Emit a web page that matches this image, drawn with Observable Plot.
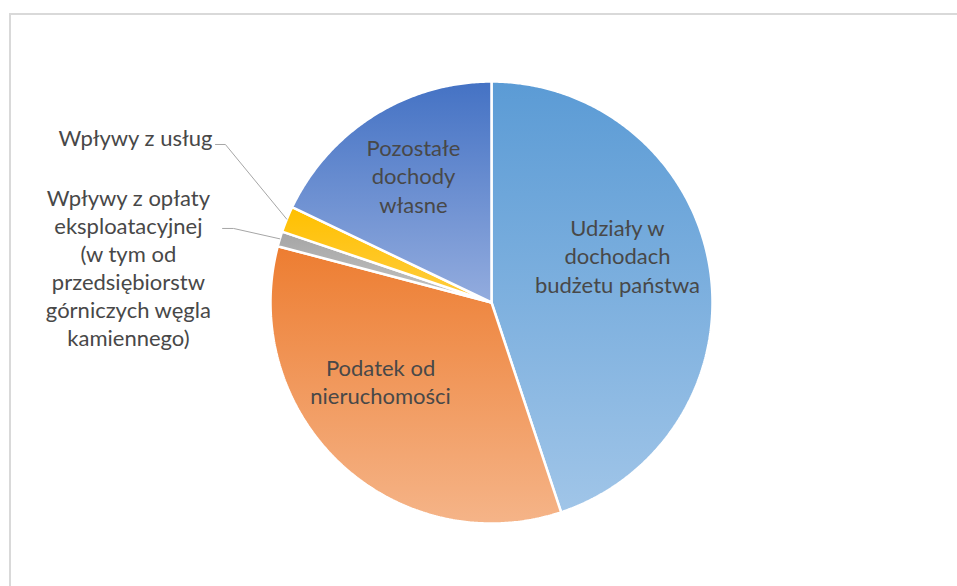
<!DOCTYPE html>
<html><head><meta charset="utf-8">
<script src="https://cdn.jsdelivr.net/npm/d3@7"></script>
<script src="https://cdn.jsdelivr.net/npm/@observablehq/plot@0.6"></script>
<style>
body{margin:0;background:#fff;overflow:hidden;}
#frame{position:absolute;left:9px;top:13px;width:980px;height:620px;border-left:2px solid #d9d9d9;border-top:2px solid #d9d9d9;}
#chart{position:absolute;left:0;top:0;}
</style></head><body>
<div id="frame"></div><div id="chart"></div>
<script>
// ---- data ----
const categories = [
  "Udziały w dochodach budżetu państwa",
  "Podatek od nieruchomości",
  "Wpływy z opłaty eksploatacyjnej (w tym od przedsiębiorstw górniczych węgla kamiennego)",
  "Wpływy z usług",
  "Pozostałe dochody własne"
];
const labelLines = [
  "Udziały w\ndochodach\nbudżetu państwa",
  "Podatek od\nnieruchomości",
  "Wpływy z opłaty\neksploatacyjnej\n(w tym od\nprzedsiębiorstw\ngórniczych węgla\nkamiennego)",
  "Wpływy z usług",
  "Pozostałe\ndochody\nwłasne"
];
const shares = [44.9, 34.2, 1.1, 1.9, 17.9];

// ---- style / layout ----
const colorTop    = ["#5b9bd5", "#ed7d31", "#a5a5a5", "#ffc000", "#4472c4"];
const colorBottom = ["#a0c5e8", "#f5b488", "#c4c4c4", "#ffcd40", "#93acde"];
const outside = [false, false, true, true, false];
// label anchor in data units (pie radius = 1)
const labelX = [0.570, -0.502, -1.643, -1.611, -0.353];
const labelY = [0.213, -0.357, 0.161, 0.747, 0.575];
// leader elbows for outside labels
const elbowX = [null, null, -1.167, -1.204, null];
const endX   = [null, null, -1.217, -1.249, null];
const leaderY = [null, null, 0.335, 0.715, null];

const arcs = d3.pie().sort(null).value(d => d)(shares);
const slicePts = [];
arcs.forEach((a, i) => {
  const n = Math.max(4, Math.ceil((a.endAngle - a.startAngle) * 180 / Math.PI * 2));
  slicePts.push({name: categories[i], x: 0, y: 0});
  for (let k = 0; k <= n; k++) {
    const t = a.startAngle + (a.endAngle - a.startAngle) * k / n;
    slicePts.push({name: categories[i], x: Math.sin(t), y: Math.cos(t)});
  }
  slicePts.push({name: categories[i], x: 0, y: 0});
});

const leaders = [];
arcs.forEach((a, i) => {
  if (!outside[i]) return;
  const m = (a.startAngle + a.endAngle) / 2;
  leaders.push({name: categories[i], x: Math.sin(m), y: Math.cos(m)});
  leaders.push({name: categories[i], x: elbowX[i], y: leaderY[i]});
  leaders.push({name: categories[i], x: endX[i], y: leaderY[i]});
});

const labels = categories.map((c, i) => ({name: c, text: labelLines[i], x: labelX[i], y: labelY[i]}));

const chart = Plot.plot({
  width: 957,
  height: 586,
  margin: 0,
  style: {background: "transparent", fontFamily: "Lato, sans-serif"},
  x: {domain: [-1, 1], range: [270, 712], axis: null},
  y: {domain: [-1, 1], range: [523, 81], axis: null},
  color: {domain: categories, range: categories.map((c, i) => `url(#grad${i})`)},
  marks: [
    Plot.line(slicePts, {x: "x", y: "y", z: "name", fill: "name", stroke: "white", strokeWidth: 2.5, strokeLinejoin: "miter", curve: "linear"}),
    Plot.line(leaders, {x: "x", y: "y", z: "name", stroke: "#a6a6a6", strokeWidth: 1}),
    Plot.text(labels, {x: "x", y: "y", text: "text", fill: "#484848", fontSize: 22, lineHeight: 1.28, textAnchor: "middle", lineAnchor: "middle"})
  ]
});

const ns = "http://www.w3.org/2000/svg";
const defs = document.createElementNS(ns, "defs");
colorTop.forEach((c, i) => {
  const g = document.createElementNS(ns, "linearGradient");
  g.setAttribute("id", `grad${i}`);
  g.setAttribute("x1", "0"); g.setAttribute("y1", "0");
  g.setAttribute("x2", "0"); g.setAttribute("y2", "1");
  const s1 = document.createElementNS(ns, "stop");
  s1.setAttribute("offset", "0"); s1.setAttribute("stop-color", c);
  const s2 = document.createElementNS(ns, "stop");
  s2.setAttribute("offset", "1"); s2.setAttribute("stop-color", colorBottom[i]);
  g.appendChild(s1); g.appendChild(s2);
  defs.appendChild(g);
});
chart.insertBefore(defs, chart.firstChild);
document.getElementById("chart").appendChild(chart);
</script>
</body></html>
